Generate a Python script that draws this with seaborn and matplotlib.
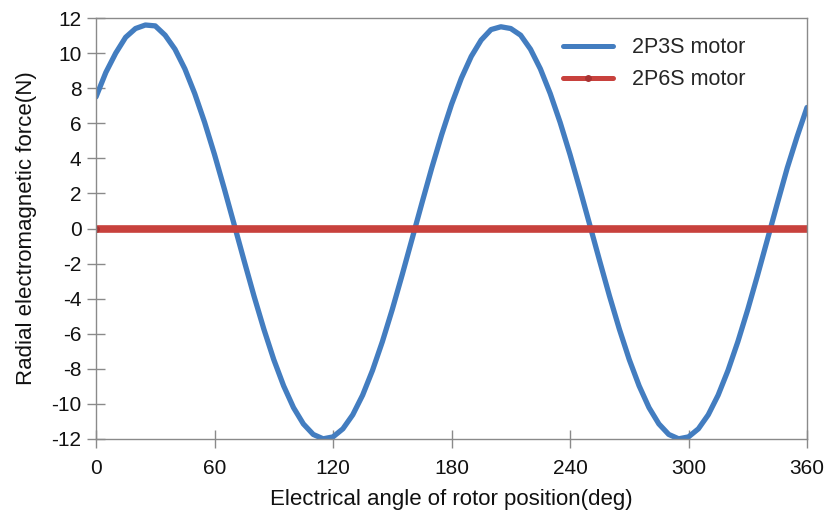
import matplotlib
matplotlib.use("Agg")
import matplotlib.pyplot as plt
import seaborn as sns
import pandas as pd

angle = list(range(0, 361, 5))
force_2p3s = [7.5, 8.9, 10.0, 10.9, 11.4, 11.6, 11.55, 11.02, 10.22, 9.10,
              7.69, 6.05, 4.22, 2.25, 0.21, -1.84, -3.85, -5.74, -7.47, -8.97,
              -10.21, -11.14, -11.74, -11.99, -11.88, -11.42, -10.62, -9.50, -8.09, -6.45,
              -4.62, -2.65, -0.61, 1.44, 3.45, 5.34, 7.07, 8.57, 9.81, 10.74,
              11.34, 11.5, 11.4, 11.02, 10.22, 9.10, 7.69, 6.05, 4.22, 2.25,
              0.21, -1.84, -3.85, -5.74, -7.47, -8.97, -10.21, -11.14, -11.74, -11.99,
              -11.88, -11.42, -10.62, -9.50, -8.09, -6.45, -4.62, -2.65, -0.61, 1.44,
              3.45, 5.24, 6.9]
force_2p6s = [0.0] * len(angle)

x_ticks = [0, 60, 120, 180, 240, 300, 360]
y_ticks = [12, 10, 8, 6, 4, 2, 0, -2, -4, -6, -8, -10, -12]

sns.set_style("white")
plt.rcParams['font.family'] = ['Liberation Sans', 'DejaVu Sans']
plt.rcParams['axes.unicode_minus'] = False

df = pd.DataFrame({"angle": angle, "2P3S motor": force_2p3s, "2P6S motor": force_2p6s})

fig = plt.figure(figsize=(8.34, 5.16), dpi=100)
ax = fig.add_axes([96/834, 77/516, 711/834, 421/516])

sns.lineplot(data=df, x="angle", y="2P3S motor", ax=ax, color="#437DC0",
             linewidth=3.8, label="2P3S motor")
sns.lineplot(data=df, x="angle", y="2P6S motor", ax=ax, color="#C8413D",
             linewidth=5.5, label="2P6S motor", marker="o", markersize=5,
             markevery=[0], markeredgewidth=0, markerfacecolor="#A83232")

ax.set_xlim(0, 360)
ax.set_ylim(-12, 12)
ax.set_xticks(x_ticks)
ax.set_yticks(y_ticks)
ax.tick_params(axis='both', bottom=True, left=True, direction='inout', length=13, width=1,
               color='#8a8a8a', labelsize=15, labelcolor='#111111')
ax.tick_params(axis='x', pad=8)
ax.tick_params(axis='y', pad=4)
for s in ax.spines.values():
    s.set_color('#8a8a8a')
    s.set_linewidth(1.0)
    s.set_visible(True)

ax.set_xlabel("Electrical angle of rotor position(deg)", fontsize=16, color='#111111', labelpad=8)
ax.set_ylabel("Radial electromagnetic force(N)", fontsize=16, color='#111111', labelpad=10)

leg = ax.legend(loc='upper left', bbox_to_anchor=(0.63, 1.0), frameon=False,
                fontsize=15.5, handlelength=2.3, handletextpad=0.9, labelspacing=0.5)
for line in leg.get_lines():
    line.set_linewidth(3.6)

fig.savefig("out.png", dpi=100, facecolor='white')
